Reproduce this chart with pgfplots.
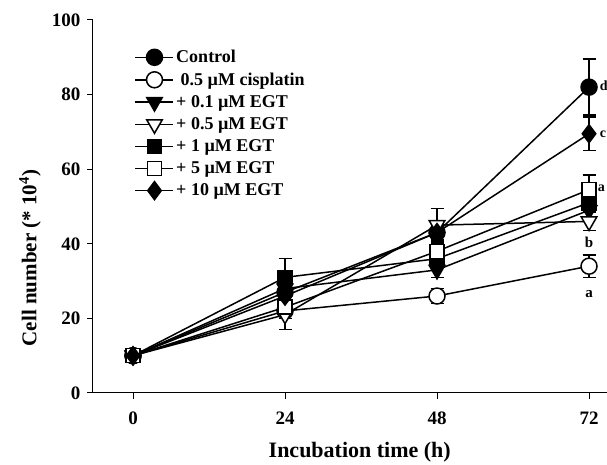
\documentclass[border=0pt]{standalone}
\usepackage{fontspec}
\setmainfont{Liberation Serif}
\usepackage{pgfplots}
\pgfplotsset{compat=1.18}

\pgfplotsset{
  ser/.style={black, line width=1.5pt, mark options={line width=1.2pt, solid}},
  eb/.style={error bars/.cd, y dir=both, y explicit,
    error bar style={line width=1.5pt, black},
    error mark options={rotate=90, mark size=6.5pt, line width=1.5pt, black}},
}

\begin{document}
\begin{tikzpicture}
\begin{axis}[
  scale only axis,
  width=514pt, height=373pt,
  xmin=-6.316, xmax=74.84, ymin=0, ymax=100,
  axis x line=bottom, axis y line=left,
  axis line style={-, line width=1pt},
  xtick={0,24,48,72}, ytick={0,20,40,60,80,100},
  tick align=outside, major tick length=6pt,
  tick style={line width=1pt, black},
  tick label style={font=\fontsize{19}{19}\selectfont\bfseries},
  xticklabel style={yshift=-9pt},
  yticklabel style={xshift=-3pt},
  /pgf/number format/assume math mode=true,
  xlabel={Incubation time (h)},
  ylabel={Cell number (* 10\textsuperscript{4})},
  xlabel style={font=\fontsize{22}{22}\selectfont\bfseries, at={(axis description cs:0.519,-0.158)}, anchor=center},
  ylabel style={font=\fontsize{21}{21}\selectfont\bfseries, at={(axis description cs:-0.1226,0.362)}, anchor=center, rotate=0},
  clip=false,
  legend style={at={(axis description cs:0.075,0.93)}, anchor=north west, draw=none, fill=none,
    font=\fontsize{18}{18}\selectfont\bfseries, row sep=4.5pt, cells={anchor=west}},
  legend image code/.code={\draw[mark repeat=2,mark phase=2,#1] plot coordinates {(0pt,0pt) (19pt,0pt) (38pt,0pt)};},
]
% Control
\addplot[ser, mark=*, mark size=8pt, mark options={fill=black}, eb] coordinates {
  (0,10) +- (0,0.8) (24,27) +- (0,2) (48,43) +- (0,2) (72,82) +- (0,7.5)
};
\addlegendentry{Control}
% 0.5 uM cisplatin
\addplot[ser, mark=*, mark size=8pt, mark options={fill=white}, eb] coordinates {
  (0,10) +- (0,0.8) (24,22) +- (0,2) (48,26) +- (0,2) (72,34) +- (0,3)
};
\addlegendentry{\ 0.5 µM cisplatin}
% + 0.1 uM EGT
\addplot[ser, mark=triangle*, mark size=9pt, mark options={fill=black, rotate=180}, eb] coordinates {
  (0,10) +- (0,0.8) (24,28) +- (0,2) (48,33) +- (0,2) (72,49) +- (0,2)
};
\addlegendentry{+ 0.1 µM EGT}
% + 0.5 uM EGT
\addplot[ser, mark=triangle*, mark size=9pt, mark options={fill=white, rotate=180}, eb] coordinates {
  (0,10) +- (0,0.8) (24,21) +- (0,4) (48,45) +- (0,4.5) (72,46) +- (0,2.5)
};
\addlegendentry{+ 0.5 µM EGT}
% + 1 uM EGT
\addplot[ser, mark=square*, mark size=7pt, mark options={fill=black}, eb] coordinates {
  (0,10) +- (0,0.8) (24,31) +- (0,5) (48,36) +- (0,2) (72,51) +- (0,2)
};
\addlegendentry{+ 1 µM EGT}
% + 5 uM EGT
\addplot[ser, mark=square*, mark size=7pt, mark options={fill=white}, eb] coordinates {
  (0,10) +- (0,0.8) (24,23) +- (0,2) (48,38) +- (0,2) (72,54.5) +- (0,4)
};
\addlegendentry{+ 5 µM EGT}
% + 10 uM EGT
\addplot[ser, mark=diamond*, mark size=9pt, mark options={fill=black}, eb] coordinates {
  (0,10) +- (0,0.8) (24,26) +- (0,2) (48,43) +- (0,2) (72,69.5) +- (0,4.5)
};
\addlegendentry{+ 10 µM EGT}

\node[font=\fontsize{14}{14}\selectfont\bfseries, anchor=west, inner sep=0.5pt] at (axis cs:73.6,82.5) {d};
\node[font=\fontsize{14}{14}\selectfont\bfseries, anchor=west, inner sep=0.5pt] at (axis cs:73.6,69.4) {c};
\node[font=\fontsize{14}{14}\selectfont\bfseries, anchor=west, inner sep=0.5pt] at (axis cs:73.3,55) {a};
\node[font=\fontsize{15}{15}\selectfont\bfseries] at (axis cs:72,40.5) {b};
\node[font=\fontsize{15}{15}\selectfont\bfseries] at (axis cs:72,26.5) {a};
\end{axis}
\pgfresetboundingbox
\path[use as bounding box] (-93pt,-72pt) rectangle (514pt,393pt);
\end{tikzpicture}
\end{document}
